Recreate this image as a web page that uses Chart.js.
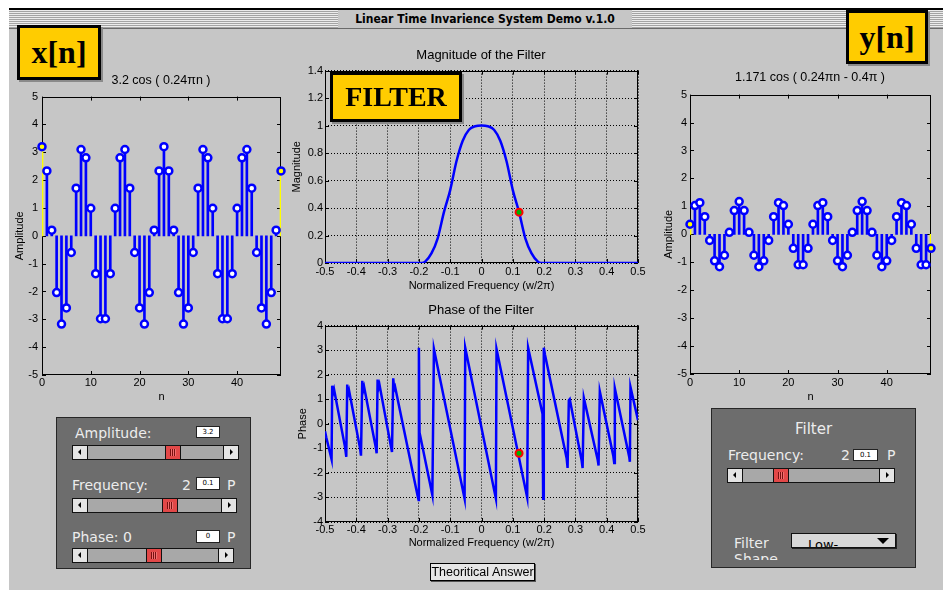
<!DOCTYPE html>
<html>
<head>
  <title>Linear Time Invarience System Demo v.1.0</title>
  <script src="https://cdn.jsdelivr.net/npm/chart.js"></script>
  <style>
    body { margin: 0; width: 943px; height: 590px; background: #fff; position: relative; overflow: hidden;
           font-family: "Liberation Sans", Arial, sans-serif; }
    .abs { position: absolute; }
    #win { left: 9px; top: 8px; width: 934px; height: 582px; background: #c6c6c6; border-top: 2px solid #000; box-sizing: border-box; }
    #titlebar { left: 9px; top: 10px; width: 934px; height: 18px; border-bottom: 1px solid #6a6a6a;
                background: repeating-linear-gradient(to bottom, #ececec 0px, #ececec 1px, #a4a4a4 1px, #a4a4a4 2px); }
    #titletext { left: 338px; top: 10px; width: 294px; height: 18px; background: #c6c6c6; text-align: center;
                 font: bold 12px "DejaVu Sans Condensed", "DejaVu Sans", sans-serif; line-height: 18px; color: #000; }
    canvas { position: absolute; }
    .ctitle { position: absolute; font-size: 12.5px; line-height: 14px; white-space: nowrap; transform: translateX(-50%); color: #000; }
    .tag { position: absolute; background: #ffcc00; border: 3px solid #000; box-sizing: border-box; display: flex;
           align-items: center; justify-content: center; font-family: "Liberation Serif", "Times New Roman", serif;
           font-weight: bold; color: #000; box-shadow: 2px 2px 0 #8a8a8a; z-index: 5; }
    .panel { position: absolute; background: #6d6d6d; border: 1px solid #262626; box-sizing: border-box; overflow: hidden; }
    .lab { position: absolute; font: 14px "DejaVu Sans", sans-serif; color: #ececec; line-height: 16px; white-space: nowrap; }
    .val { position: absolute; background: #fff; border: 1px solid #222; box-sizing: border-box; font: 7px "DejaVu Sans", sans-serif;
           text-align: center; line-height: 10px; color: #000; }
    .slider { position: absolute; height: 15px; background: #a8a8a8; border: 1px solid #111; box-sizing: border-box; }
    .arr { position: absolute; top: 0; width: 14px; height: 13px; background: #e4e4e4; }
    .arr.l { left: 0; border-right: 1px solid #111; }
    .arr.r { right: 0; border-left: 1px solid #111; }
    .arr::after { content: ""; position: absolute; top: 3px; border-top: 3px solid transparent; border-bottom: 3px solid transparent; }
    .arr.l::after { left: 5px; border-right: 3px solid #000; }
    .arr.r::after { left: 6px; border-left: 3px solid #000; }
    .thumb { position: absolute; top: 0; width: 16px; height: 13px; box-sizing: border-box; border-left: 1px solid #111; border-right: 1px solid #111;
             background: #e24848; }
    .thumb::after { content: ""; position: absolute; left: 4px; top: 3px; width: 6px; height: 7px;
                    background: repeating-linear-gradient(to right, #7a1010 0 1px, #f07070 1px 2px); }
    #btn { left: 430px; top: 563px; width: 105px; height: 18px; background: #e6e6e6; border: 1px solid #000; box-sizing: border-box;
           box-shadow: 1px 1px 0 #555; overflow: hidden; font-size: 12.5px; line-height: 16px; text-align: center; white-space: nowrap; color: #000; }
  </style>
</head>
<body>
  <div id="win" class="abs"></div>
  <div id="titlebar" class="abs"></div>
  <div id="titletext" class="abs">Linear Time Invarience System Demo v.1.0</div>

  <canvas id="xChart" width="280" height="320" style="left:10px; top:86px;"></canvas>
  <canvas id="magChart" width="360" height="231" style="left:288px; top:62px;"></canvas>
  <canvas id="phaseChart" width="360" height="233" style="left:288px; top:317px;"></canvas>
  <canvas id="yChart" width="290" height="321" style="left:650px; top:85px;"></canvas>

  <div class="ctitle" style="left:161px; top:73px;">3.2 cos ( 0.24&pi;n )</div>
  <div class="ctitle" style="left:481px; top:48px; font-size:13px;">Magnitude of the Filter</div>
  <div class="ctitle" style="left:481px; top:303px; font-size:13px;">Phase of the Filter</div>
  <div class="ctitle" style="left:810px; top:70px;">1.171 cos ( 0.24&pi;n - 0.4&pi; )</div>

  <div class="tag" style="left:17px; top:25px; width:84px; height:55px; font-size:32px;">x[n]</div>
  <div class="tag" style="left:330px; top:72px; width:132px; height:50px; font-size:28px;">FILTER</div>
  <div class="tag" style="left:846px; top:10px; width:82px; height:54px; font-size:32px;">y[n]</div>

  <!-- input signal controls -->
  <div class="panel" style="left:56px; top:417px; width:195px; height:152px;"></div>
  <div class="lab" style="left:75px; top:425px;">Amplitude:</div>
  <div class="val" style="left:196px; top:426px; width:24px; height:12px;">3.2</div>
  <div class="slider" style="left:72px; top:445px; width:167px;">
    <div class="arr l"></div><div class="thumb" style="left:92px;"></div><div class="arr r"></div>
  </div>
  <div class="lab" style="left:72px; top:477px;">Frequency:</div>
  <div class="lab" style="left:182px; top:477px;">2</div>
  <div class="val" style="left:196px; top:477px; width:24px; height:13px;">0.1</div>
  <div class="lab" style="left:227px; top:477px;">P</div>
  <div class="slider" style="left:72px; top:498px; width:165px;">
    <div class="arr l"></div><div class="thumb" style="left:89px;"></div><div class="arr r"></div>
  </div>
  <div class="lab" style="left:72px; top:529px;">Phase: 0</div>
  <div class="val" style="left:196px; top:530px; width:24px; height:13px;">0</div>
  <div class="lab" style="left:227px; top:529px;">P</div>
  <div class="slider" style="left:72px; top:548px; width:162px;">
    <div class="arr l"></div><div class="thumb" style="left:73px;"></div><div class="arr r"></div>
  </div>

  <!-- filter controls -->
  <div class="panel" style="left:711px; top:408px; width:205px; height:160px;">
    <div class="lab" style="left:0; width:203px; text-align:center; top:12px; font-size:15px;">Filter</div>
    <div class="abs" style="left:22px; top:126px; width:50px; height:25px; overflow:hidden;">
      <div class="lab" style="left:0; top:0; line-height:16px;">Filter<br>Shape</div>
    </div>
    <div class="abs" style="left:79px; top:124px; width:105px; height:15px; background:#d8d8d8; border:1px solid #111; box-sizing:border-box; box-shadow:1px 1px 0 #222; overflow:hidden;">
      <div class="abs" style="left:16px; top:4px; font:13px 'DejaVu Sans', sans-serif; color:#000; line-height:14px;">Low-</div>
      <div class="abs" style="right:6px; top:4px; width:0; height:0; border-left:6px solid transparent; border-right:6px solid transparent; border-top:6px solid #000;"></div>
    </div>
  </div>
  <div class="lab" style="left:728px; top:447px;">Frequency:</div>
  <div class="lab" style="left:841px; top:447px;">2</div>
  <div class="val" style="left:853px; top:449px; width:25px; height:12px;">0.1</div>
  <div class="lab" style="left:887px; top:447px;">P</div>
  <div class="slider" style="left:727px; top:468px; width:168px;">
    <div class="arr l"></div><div class="thumb" style="left:45px;"></div><div class="arr r"></div>
  </div>

  <div id="btn" class="abs">Theoritical Answer</div>

  <script>
    // sample index n and the two stem signals
    const nValues = [0, 1, 2, 3, 4, 5, 6, 7, 8, 9, 10, 11, 12, 13, 14, 15, 16, 17, 18, 19, 20, 21, 22, 23, 24,
                     25, 26, 27, 28, 29, 30, 31, 32, 33, 34, 35, 36, 37, 38, 39, 40, 41, 42, 43, 44, 45, 46, 47, 48, 49];
    const xValues = [3.2, 2.33, 0.2, -2.04, -3.17, -2.59, -0.6, 1.71, 3.1, 2.8, 0.99, -1.36, -2.98, -2.98, -1.36, 0.99, 2.8, 3.1, 1.71, -0.6, -2.59, -3.17, -2.04, 0.2, 2.33,
                     3.2, 2.33, 0.2, -2.04, -3.17, -2.59, -0.6, 1.71, 3.1, 2.8, 0.99, -1.36, -2.98, -2.98, -1.36, 0.99, 2.8, 3.1, 1.71, -0.6, -2.59, -3.17, -2.04, 0.2, 2.33];
    const yValues = [0.36, 1.03, 1.13, 0.63, -0.22, -0.95, -1.16, -0.75, 0.07, 0.85, 1.17, 0.85, 0.07, -0.75, -1.16, -0.95, -0.22, 0.63, 1.13, 1.03, 0.36, -0.5, -1.09, -1.09, -0.5,
                     0.36, 1.03, 1.13, 0.63, -0.22, -0.95, -1.16, -0.75, 0.07, 0.85, 1.17, 0.85, 0.07, -0.75, -1.16, -0.95, -0.22, 0.63, 1.13, 1.03, 0.36, -0.5, -1.09, -1.09, -0.5];
    const nTicks = [0, 10, 20, 30, 40];
    const nTickLabels = ['0', '10', '20', '30', '40'];
    const ampTicks = [-5, -4, -3, -2, -1, 0, 1, 2, 3, 4, 5];
    const ampTickLabels = ['-5', '-4', '-3', '-2', '-1', '0', '1', '2', '3', '4', '5'];

    // filter response
    const freqTicks = [-0.5, -0.4, -0.3, -0.2, -0.1, 0, 0.1, 0.2, 0.3, 0.4, 0.5];
    const freqTickLabels = ['-0.5', '-0.4', '-0.3', '-0.2', '-0.1', '0', '0.1', '0.2', '0.3', '0.4', '0.5'];
    const magFreq = [-0.5, -0.19, -0.18, -0.16, -0.14, -0.12, -0.10, -0.08, -0.06, -0.04, -0.02, 0,
                     0.02, 0.04, 0.06, 0.08, 0.10, 0.12, 0.14, 0.16, 0.18, 0.19, 0.5];
    const magValues = [0, 0, 0.01, 0.07, 0.18, 0.37, 0.53, 0.74, 0.89, 0.97, 0.995, 1,
                       0.995, 0.97, 0.89, 0.74, 0.53, 0.37, 0.18, 0.07, 0.01, 0, 0];
    const magTicks = [0, 0.2, 0.4, 0.6, 0.8, 1, 1.2, 1.4];
    const magTickLabels = ['0', '0.2', '0.4', '0.6', '0.8', '1', '1.2', '1.4'];
    const phaseFreq = [-0.500, -0.496, -0.479, -0.477, -0.474, -0.471, -0.436, -0.432, -0.429, -0.426, -0.423,
                       -0.388, -0.385, -0.381, -0.378, -0.375, -0.338, -0.335, -0.332, -0.329, -0.326,
                       -0.289, -0.286, -0.282, -0.279, -0.276, -0.203, -0.201, -0.200, -0.198, -0.157,
                       -0.152, -0.054, -0.052, 0.046, 0.048, 0.146, 0.149, 0.195, 0.197, 0.199, 0.203,
                       0.272, 0.275, 0.279, 0.282, 0.320, 0.323, 0.327, 0.371, 0.374, 0.378,
                       0.421, 0.424, 0.426, 0.472, 0.474, 0.476, 0.500];
    const phaseValues = [-0.30, -0.55, -1.45, 1.55, 1.25, 1.40, -0.95, -1.35, 1.60, 1.20, 1.35,
                         -1.00, -1.30, 1.75, 1.35, 1.50, -0.95, -1.20, 1.80, 1.45, 1.60,
                         -0.95, -1.15, 1.85, 1.40, 1.50, -3.00, -3.10, 3.10, -0.35, -2.90,
                         3.05, -3.05, 3.10, -3.05, 3.05, -3.00, 3.10, 0.40, -3.05, 3.10, 2.80,
                         -1.40, -1.80, 0.95, 1.00, -1.50, -1.80, 1.05, -1.45, -1.70, 1.32,
                         -1.30, -1.60, 1.45, -1.35, -1.55, 1.50, 0.15];
    const phaseTicks = [-4, -3, -2, -1, 0, 1, 2, 3, 4];
    const phaseTickLabels = ['-4', '-3', '-2', '-1', '0', '1', '2', '3', '4'];

    // current operating point (input frequency 0.12)
    const markFreq = [0.12];
    const markMag = [0.37];
    const markPhase = [-1.2];

    Chart.defaults.font.family = '"Liberation Sans", Arial, sans-serif';
    Chart.defaults.font.size = 11;
    Chart.defaults.color = '#000';
    Chart.defaults.animation = false;
    Chart.defaults.plugins.legend.display = false;
    Chart.defaults.plugins.tooltip.enabled = false;

    const pts = (xs, ys) => xs.map((x, i) => ({ x: x, y: ys[i] }));

    // matlab style box with inward tick marks
    const boxPlugin = {
      id: 'box',
      beforeDatasetsDraw(chart) {
        const { ctx, chartArea: a, scales } = chart;
        const len = 4;
        ctx.save();
        ctx.strokeStyle = '#000';
        ctx.lineWidth = 1;
        ctx.beginPath();
        scales.x.ticks.forEach(t => {
          const p = Math.round(scales.x.getPixelForValue(t.value)) + 0.5;
          ctx.moveTo(p, a.top); ctx.lineTo(p, a.top + len);
          ctx.moveTo(p, a.bottom); ctx.lineTo(p, a.bottom - len);
        });
        scales.y.ticks.forEach(t => {
          const p = Math.round(scales.y.getPixelForValue(t.value)) + 0.5;
          ctx.moveTo(a.left, p); ctx.lineTo(a.left + len, p);
          ctx.moveTo(a.right, p); ctx.lineTo(a.right - len, p);
        });
        ctx.stroke();
        ctx.strokeRect(Math.round(a.left) + 0.5, Math.round(a.top) + 0.5,
                       Math.round(a.right - a.left) - 1, Math.round(a.bottom - a.top) - 1);
        ctx.restore();
      }
    };

    const axis = (min, max, ticks, labels, o) => ({
      type: 'linear', min: min, max: max, offset: false,
      afterBuildTicks: s => { s.ticks = ticks.map(v => ({ value: v })); },
      afterFit: o.fit,
      ticks: { autoSkip: false, maxRotation: 0, padding: o.pad, callback: (v, i) => labels[i] },
      grid: o.grid ? { color: '#000', lineWidth: 1, drawTicks: false, offset: false, borderDash: [1, 2] }
                   : { display: false, drawTicks: false, offset: false },
      border: { display: false, dash: [1, 2] },
      title: { display: true, text: o.title, padding: o.titlePad }
    });

    const stemChart = (id, values, yPad, titleTop) => {
      const last = values.length - 1;
      const edge = c => (c.dataIndex === 0 || c.dataIndex === last);
      new Chart(document.getElementById(id), {
        type: 'bar',
        data: {
          datasets: [{
            type: 'line',
            data: pts(nValues, values),
            showLine: false,
            pointRadius: 3.5,
            pointBorderWidth: 2.5,
            pointBorderColor: '#0000ff',
            pointBackgroundColor: c => edge(c) ? '#ffff00' : '#ffffff',
            clip: false,
            order: 0
          }, {
            type: 'bar',
            data: pts(nValues, values),
            backgroundColor: c => edge(c) ? '#ffff00' : '#0000ff',
            barThickness: 2,
            order: 1
          }]
        },
        options: {
          responsive: false,
          layout: { padding: { top: 6, right: 9, left: 0, bottom: 0 } },
          scales: {
            x: axis(0, 49, nTicks, nTickLabels, {
              fit: s => { s.height = id === 'xChart' ? 31 : 32; }, pad: id === 'xChart' ? 1 : 2,
              grid: false, title: 'n', titlePad: { top: 0, bottom: 2 } }),
            y: axis(-5, 5, ampTicks, ampTickLabels, {
              fit: s => { s.width = id === 'xChart' ? 32 : 40; }, pad: yPad,
              grid: false, title: 'Amplitude', titlePad: { top: titleTop, bottom: 0 } })
          }
        },
        plugins: [boxPlugin]
      });
    };

    stemChart('xChart', xValues, 4, 3);
    stemChart('yChart', yValues, 3, 12);

    new Chart(document.getElementById('magChart'), {
      type: 'line',
      data: {
        datasets: [{
          data: pts(markFreq, markMag),
          showLine: false,
          pointRadius: 3.5,
          pointBorderWidth: 2,
          pointBorderColor: '#ff0000',
          pointBackgroundColor: '#00b000',
          order: 0
        }, {
          data: pts(magFreq, magValues),
          borderColor: '#0000ff',
          borderWidth: 2.5,
          pointRadius: 0,
          cubicInterpolationMode: 'monotone',
          order: 1
        }]
      },
      options: {
        responsive: false,
        layout: { padding: { top: 6, right: 10, left: 0, bottom: 0 } },
        scales: {
          x: axis(-0.5, 0.5, freqTicks, freqTickLabels, {
            fit: s => { s.height = 30; }, pad: 2, grid: true,
            title: 'Normalized Frequency (w/2\u03c0)', titlePad: { top: 0, bottom: 0 } }),
          y: axis(0, 1.4, magTicks, magTickLabels, {
            fit: s => { s.width = 37; }, pad: 2, grid: true,
            title: 'Magnitude', titlePad: { top: 2, bottom: 0 } })
        }
      },
      plugins: [boxPlugin]
    });

    new Chart(document.getElementById('phaseChart'), {
      type: 'line',
      data: {
        datasets: [{
          data: pts(markFreq, markPhase),
          showLine: false,
          pointRadius: 3.5,
          pointBorderWidth: 2,
          pointBorderColor: '#ff0000',
          pointBackgroundColor: '#00b000',
          order: 0
        }, {
          data: pts(phaseFreq, phaseValues),
          borderColor: '#0000ff',
          borderWidth: 2.5,
          pointRadius: 0,
          tension: 0,
          order: 1
        }]
      },
      options: {
        responsive: false,
        layout: { padding: { top: 6, right: 10, left: 0, bottom: 0 } },
        scales: {
          x: axis(-0.5, 0.5, freqTicks, freqTickLabels, {
            fit: s => { s.height = 28; }, pad: 1, grid: true,
            title: 'Normalized Frequency (w/2\u03c0)', titlePad: { top: 0, bottom: 0 } }),
          y: axis(-4, 4, phaseTicks, phaseTickLabels, {
            fit: s => { s.width = 37; }, pad: 2, grid: true,
            title: 'Phase', titlePad: { top: 8, bottom: 0 } })
        }
      },
      plugins: [boxPlugin]
    });
  </script>
</body>
</html>
